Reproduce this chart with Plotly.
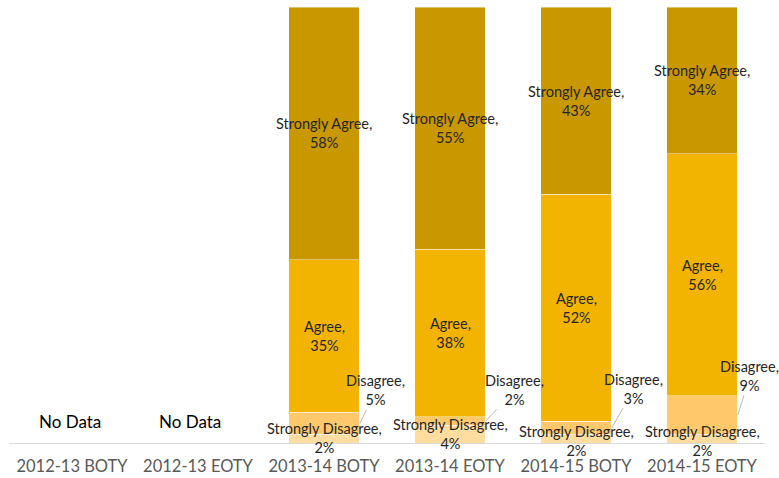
import plotly.graph_objects as go

categories = ["2012-13 BOTY", "2012-13 EOTY", "2013-14 BOTY", "2013-14 EOTY", "2014-15 BOTY", "2014-15 EOTY"]
strongly_disagree = [None, None, 2, 4, 2, 2]
disagree = [None, None, 5, 2, 3, 9]
agree = [None, None, 35, 38, 52, 56]
strongly_agree = [None, None, 58, 55, 43, 34]
no_data_label = "No Data"

series = [
    ("Strongly Disagree", strongly_disagree, "#FFDDA0"),
    ("Disagree", disagree, "#FFC86A"),
    ("Agree", agree, "#F2B400"),
    ("Strongly Agree", strongly_agree, "#C99700"),
]

xs = list(range(len(categories)))
fig = go.Figure()
for name, vals, color in series:
    fig.add_trace(go.Bar(
        x=xs, y=vals, name=name, width=0.556,
        marker=dict(color=color, line=dict(color="rgba(255,255,255,0.6)", width=0.7)),
        hoverinfo="skip",
    ))

FAM = "Lato, Open Sans, sans-serif"
font_txt = dict(family=FAM, size=14.5, color="#262626")
annotations = []
# leader-line offsets for Disagree labels (pixels)
d_offsets = {2: (16, -33), 3: (29, -31), 4: (22, -39), 5: (12, -39)}
sd_shift = {2: 1, 3: 0, 4: -2, 5: -2}
for i in xs:
    if strongly_agree[i] is None:
        annotations.append(dict(x=i, y=0, yshift=22, text=no_data_label, showarrow=False,
                                xshift=-2 if i == 0 else -8,
                                font=dict(family=FAM, size=17, color="#000000")))
        continue
    vals = [s[1][i] for s in series]
    total = sum(vals)
    cum = 0
    for (name, v, _), val in zip(series, vals):
        lo = cum / total * 100
        hi = (cum + val) / total * 100
        mid = (lo + hi) / 2
        cum += val
        text = f"{name},<br>{val}%"
        if name == "Disagree":
            ax, ay = d_offsets[i]
            annotations.append(dict(x=i + 0.285, y=mid, text=text, showarrow=True, arrowhead=0,
                                    arrowwidth=0.8, arrowcolor="#A6A6A6", ax=ax, ay=ay,
                                    font=font_txt, standoff=0))
        elif name == "Strongly Disagree":
            annotations.append(dict(x=i, y=mid, text=text, showarrow=False, font=font_txt,
                                    yshift=sd_shift[i]))
        else:
            annotations.append(dict(x=i, y=mid, text=text, showarrow=False, font=font_txt))

fig.update_layout(
    barmode="stack", barnorm="percent",
    width=779, height=478,
    margin=dict(l=9, r=14, t=7, b=35, autoexpand=False),
    paper_bgcolor="white", plot_bgcolor="white",
    showlegend=False, hovermode=False,
    annotations=annotations,
    xaxis=dict(range=[-0.5, 5.5], tickvals=xs, ticktext=categories, showgrid=False,
               zeroline=False, showline=True, linecolor="#D9D9D9", linewidth=1,
               automargin=False, ticks="", ticklabelstandoff=8, fixedrange=True,
               tickfont=dict(family=FAM, size=16.5, color="#595959")),
    yaxis=dict(range=[0, 100], visible=False, showgrid=False, zeroline=False,
               automargin=False, fixedrange=True),
)

fig.write_html("out.html", config={"displayModeBar": False, "staticPlot": True},
               post_script="document.body.style.margin='0';document.body.style.padding='0';document.body.style.overflow='hidden';")
